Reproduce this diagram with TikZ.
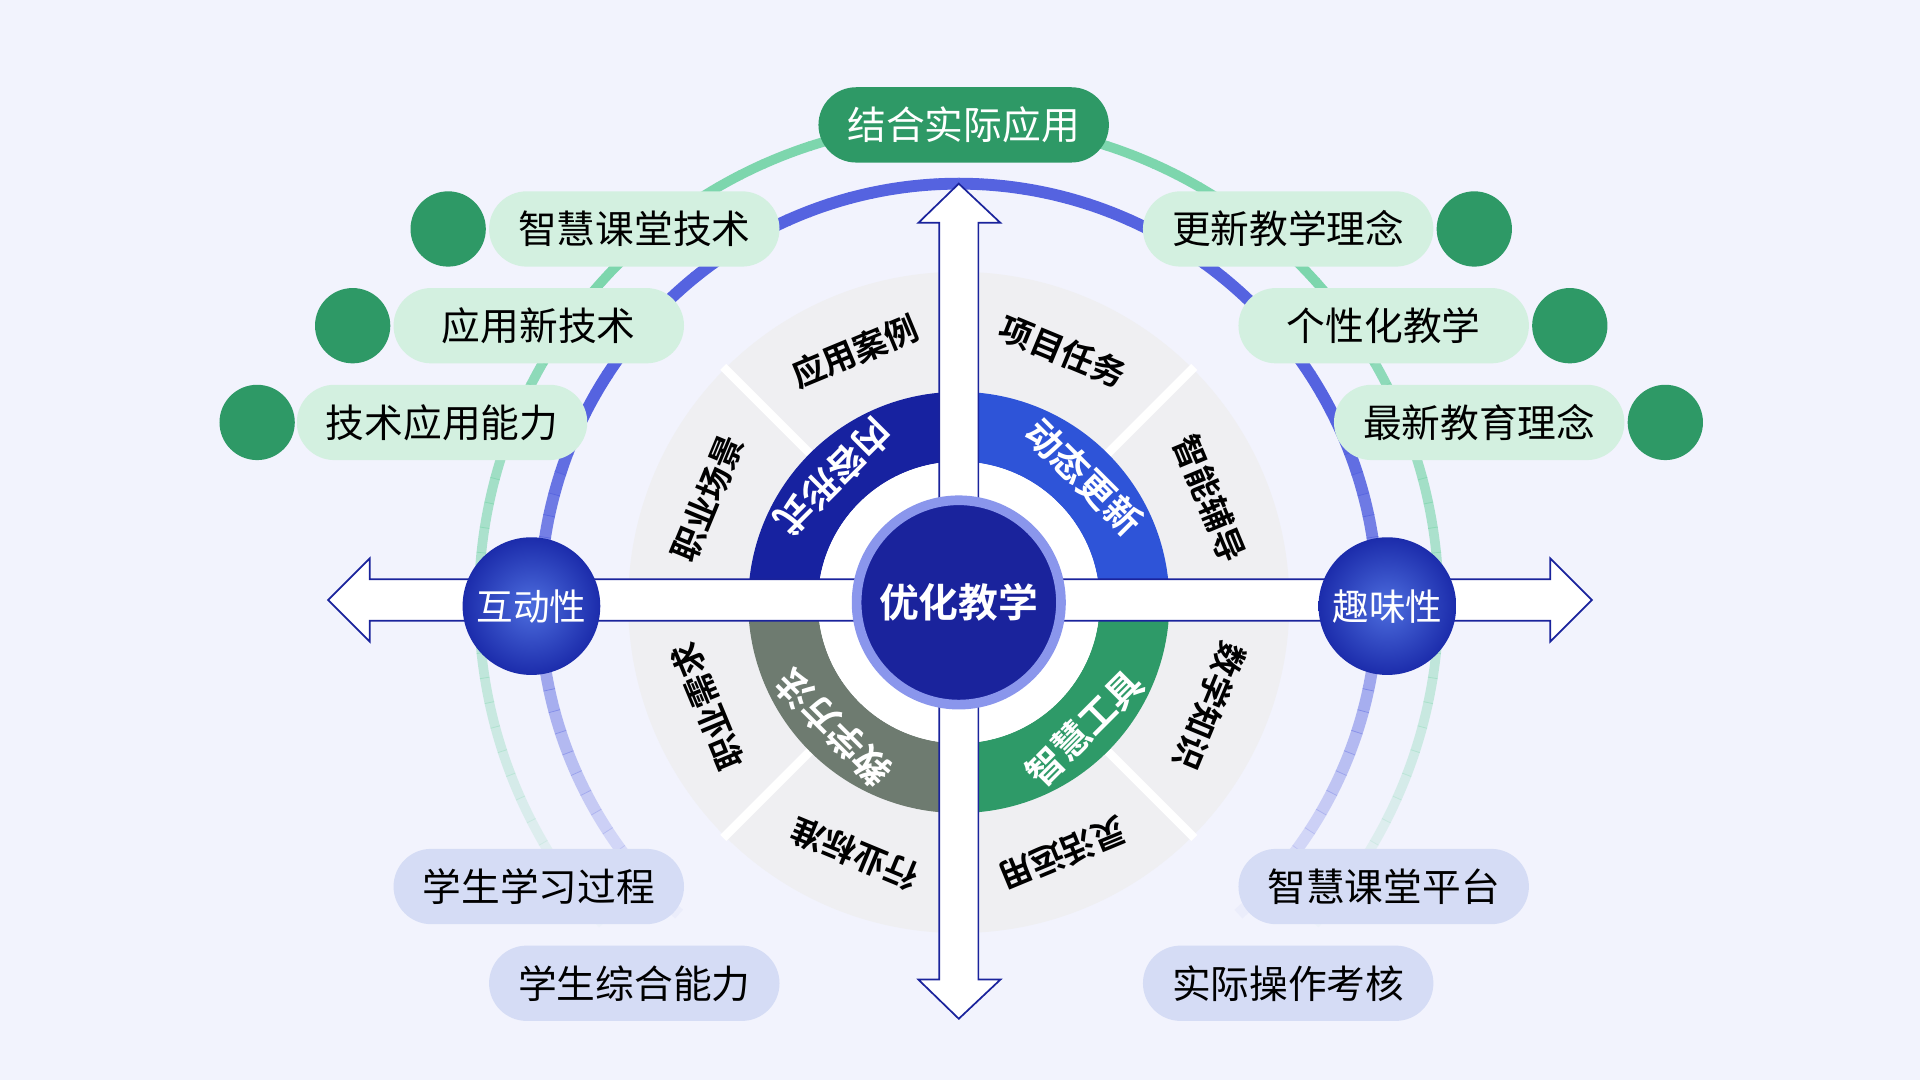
\documentclass[tikz,border=0pt]{standalone}
\usetikzlibrary{calc}
\usepackage{fontspec}
\setmainfont{Noto Sans CJK SC}
\newfontfamily\cjkb{Noto Sans CJK SC Bold}
\definecolor{bg}{HTML}{F2F3FD}
\definecolor{navy}{HTML}{1A239C}
\definecolor{qtl}{HTML}{1722A0}
\definecolor{qtr}{HTML}{2E54D8}
\definecolor{qbl}{HTML}{6E7B70}
\definecolor{qbr}{HTML}{2E9A68}
\definecolor{dgreen}{HTML}{2E9966}
\definecolor{lgreen}{HTML}{D3F0E0}
\definecolor{lblue}{HTML}{D5DCF5}
\definecolor{arcg}{HTML}{7DD6AD}
\definecolor{arcb}{HTML}{5563E0}
\definecolor{ring}{HTML}{8A96EC}
\definecolor{gray1}{HTML}{EFEFF2}
\begin{document}
\begin{tikzpicture}[x=0.02cm,y=0.02cm,
  pill/.style={rounded corners=17.5pt,minimum width=135pt,minimum height=35pt,inner sep=0,font=\fontsize{18}{20}\selectfont,text=black},
  gpill/.style={pill,fill=lgreen},
  bpill/.style={pill,fill=lblue},
  dot/.style={circle,fill=dgreen,minimum size=35pt,inner sep=0},
  olab/.style={font=\cjkb\fontsize{15.5}{17}\selectfont,text=black},
  ilab/.style={font=\cjkb\fontsize{17}{19}\selectfont,text=white},
  side/.style={circle,inner color=qtr!85!white,outer color=qtl!80!qtr,minimum size=64pt,inner sep=0,text=white,font=\fontsize{17}{19}\selectfont}]
\useasboundingbox (0,0) rectangle (1568,882);
\fill[bg] (0,0) rectangle (1568,882);
\coordinate (C) at (783,390);
% fading arcs
\foreach \i in {0,...,45}{
  \pgfmathsetmacro\a{90+3*\i}
  \pgfmathsetmacro\op{min(1,max(0,(222-\a)/85))}
  \pgfmathsetmacro\ob{min(1,max(0,(228-\a)/75))}
  \draw[arcg,line width=4.5pt,opacity=\op] (C) ++(\a:392) arc (\a:\a+3.1:392);
  \draw[arcg,line width=4.5pt,opacity=\op] (C) ++(180-\a:392) arc (180-\a:176.9-\a:392);
  \draw[arcb,line width=5.5pt,opacity=\ob] (C) ++(\a:342) arc (\a:\a+3.1:342);
  \draw[arcb,line width=5.5pt,opacity=\ob] (C) ++(180-\a:342) arc (180-\a:176.9-\a:342);
}
% gray disc
\fill[gray1] (C) circle (270);
\foreach \a in {45,135,225,315}\draw[white,line width=4pt] (C) ++(\a:172) -- ++(\a:100);
% quadrants
\fill[qtr] (C) ++(0:172) arc (0:90:172) -- ++(0,-57) arc (90:0:115) -- cycle;
\fill[qtl] (C) ++(90:172) arc (90:180:172) -- ++(57,0) arc (180:90:115) -- cycle;
\fill[qbl] (C) ++(180:172) arc (180:270:172) -- ++(0,57) arc (270:180:115) -- cycle;
\fill[qbr] (C) ++(270:172) arc (270:360:172) -- ++(-57,0) arc (360:270:115) -- cycle;
\fill[white] (C) circle (115);
% cross arrow
\draw[navy,fill=white,line width=0.8pt,line join=miter]
 (767,409) -- (767,700) -- (750,700) -- (783,732) -- (817,700) -- (799,700) -- (799,409)
 -- (1266,409) -- (1266,426) -- (1300,392) -- (1266,358) -- (1266,375) -- (799,375)
 -- (799,82) -- (817,82) -- (783,50) -- (750,82) -- (767,82) -- (767,375)
 -- (302,375) -- (302,358) -- (268,392) -- (302,426) -- (302,409) -- cycle;
% center
\node[circle,fill=navy,draw=ring,line width=4.5pt,minimum size=95pt,inner sep=0,text=white,font=\cjkb\fontsize{18.5}{20}\selectfont] (core) at (C) {优化教学};
% inner labels
\node[ilab,rotate=-45] (i1) at ($(C)+(45:145)$) {动态更新};
\node[ilab,rotate=225] (i2) at ($(C)+(135:145)$) {内容形式};
\node[ilab,rotate=135] (i3) at ($(C)+(225:145)$) {教学方法};
\node[ilab,rotate=45] (i4) at ($(C)+(315:145)$) {智慧工具};
% outer labels
\foreach \a/\t [count=\k] in {112.5/应用案例,67.5/项目任务,22.5/智能辅导,-22.5/数学知识,-67.5/灵活运用,-112.5/行业标准,-157.5/职业需求,157.5/职业场景}
  \node[olab,rotate=\a-90] (o\k) at ($(C)+(\a:222)$) {\t};
% side circles
\node[side] (s1) at (434,387) {互动性};
\node[side] (s2) at (1133,387) {趣味性};
% pills
\node[pill,fill=dgreen,text=white] (top) at (787,780) {结合实际应用};
\node[gpill] (p1) at (518,695) {智慧课堂技术};
\node[dot] (d1) at (366,695) {};
\node[gpill] (p2) at (440,616) {应用新技术};
\node[dot] (d2) at (288,616) {};
\node[gpill] (p3) at (361,537) {技术应用能力};
\node[dot] (d3) at (210,537) {};
\node[gpill] (p4) at (1052,695) {更新教学理念};
\node[dot] (d4) at (1204,695) {};
\node[gpill] (p5) at (1130,616) {个性化教学};
\node[dot] (d5) at (1282,616) {};
\node[gpill] (p6) at (1208,537) {最新教育理念};
\node[dot] (d6) at (1360,537) {};
\node[bpill] (b1) at (440,158) {学生学习过程};
\node[bpill] (b2) at (518,79) {学生综合能力};
\node[bpill] (b3) at (1130,158) {智慧课堂平台};
\node[bpill] (b4) at (1052,79) {实际操作考核};
\end{tikzpicture}
\end{document}
